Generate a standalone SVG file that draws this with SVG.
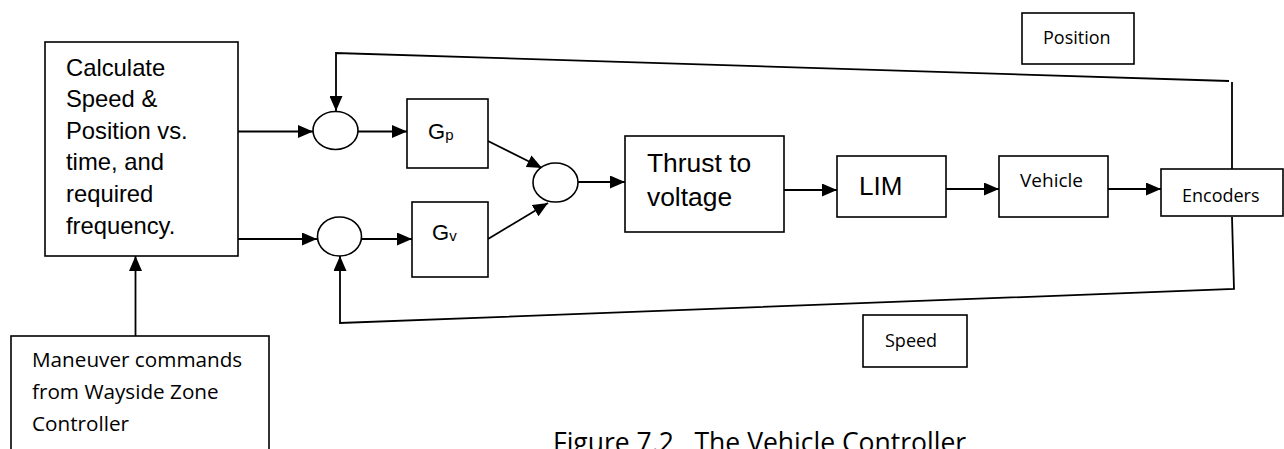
<svg xmlns="http://www.w3.org/2000/svg" width="1284" height="449" viewBox="0 0 1284 449">
<defs>
<style>
.box{fill:#fff;stroke:#000;stroke-width:1.6}
.sum{fill:#fff;stroke:#000;stroke-width:1.6}
.ln{fill:none;stroke:#000;stroke-width:1.8}
.arr{fill:none;stroke:#000;stroke-width:1.8;marker-end:url(#ah)}
.a{font-family:"Liberation Sans",Arial,sans-serif;fill:#000}
.c{font-family:"Open Sans","Noto Sans",sans-serif;fill:#000}
</style>
<marker id="ah" viewBox="0 0 15 13" refX="15" refY="6.5" markerWidth="15" markerHeight="13" orient="auto" markerUnits="userSpaceOnUse">
<path d="M0,0 L15,6.5 L0,13 z" fill="#000"/>
</marker>
</defs>
<rect width="1284" height="449" fill="#fff"/>

<g id="connectors">
<line class="arr" x1="238" y1="131.5" x2="313" y2="131.5"/>
<line class="arr" x1="358" y1="131.5" x2="407" y2="131.5"/>
<line class="arr" x1="238" y1="239" x2="317" y2="239"/>
<line class="arr" x1="362" y1="239" x2="412" y2="239"/>
<line class="arr" x1="488" y1="141" x2="542" y2="168"/>
<line class="arr" x1="488" y1="239" x2="548" y2="203"/>
<line class="arr" x1="578" y1="182" x2="625" y2="182"/>
<line class="arr" x1="784" y1="190" x2="837" y2="190"/>
<line class="arr" x1="946" y1="189" x2="999" y2="189"/>
<line class="arr" x1="1108" y1="189" x2="1161" y2="189"/>
<line class="arr" x1="135.5" y1="336" x2="135.5" y2="256"/>
<line class="ln" x1="1232" y1="169" x2="1232" y2="82"/>
<polyline class="arr" points="1229,81 336,53 336,111"/>
<polyline class="arr" points="1232,217 1234,289 340,323 340,256"/>
</g>

<g id="calc">
<rect class="box" x="45" y="42" width="193" height="214"/>
<text class="a" font-size="23.8"><tspan x="66" y="75.5">Calculate</tspan><tspan x="66" y="107">Speed &amp;</tspan><tspan x="66" y="138.5">Position vs.</tspan><tspan x="66" y="170">time, and</tspan><tspan x="66" y="202">required</tspan><tspan x="66" y="234">frequency.</tspan></text>
</g>

<g id="sum1"><ellipse class="sum" cx="335.5" cy="130.5" rx="22.5" ry="19"/></g>
<g id="sum2"><ellipse class="sum" cx="339.5" cy="236.5" rx="22" ry="19.5"/></g>
<g id="sum3"><ellipse class="sum" cx="555.5" cy="182.5" rx="22.5" ry="19.5"/></g>

<g id="gp">
<rect class="box" x="407" y="99" width="81" height="69"/>
<text class="a" x="428" y="139" font-size="22">G<tspan font-size="15" dy="1">p</tspan></text>
</g>
<g id="gv">
<rect class="box" x="412" y="202" width="76" height="75"/>
<text class="a" x="432" y="240" font-size="22">G<tspan font-size="15" dy="1">v</tspan></text>
</g>

<g id="thrust">
<rect class="box" x="625" y="136" width="159" height="96"/>
<text class="a" font-size="26.4"><tspan x="647" y="172">Thrust to</tspan><tspan x="647" y="206">voltage</tspan></text>
</g>

<g id="lim">
<rect class="box" x="837" y="156" width="109" height="61"/>
<text class="a" x="859" y="195" font-size="26">LIM</text>
</g>

<g id="vehicle">
<rect class="box" x="999" y="156" width="109" height="61"/>
<text class="c" x="1020" y="187" font-size="19">Vehicle</text>
</g>

<g id="encoders">
<rect class="box" x="1161" y="169" width="122" height="47"/>
<text class="c" x="1182" y="202" font-size="18">Encoders</text>
</g>

<g id="position">
<rect class="box" x="1022" y="13" width="112" height="51"/>
<text class="c" x="1043" y="44" font-size="18">Position</text>
</g>

<g id="speed">
<rect class="box" x="863" y="315" width="104" height="52"/>
<text class="c" x="885" y="347" font-size="18">Speed</text>
</g>

<g id="maneuver">
<rect class="box" x="11" y="336" width="258" height="130"/>
<text class="c" font-size="20.7"><tspan x="32" y="367">Maneuver commands</tspan><tspan x="32" y="399">from Wayside Zone</tspan><tspan x="32" y="431">Controller</tspan></text>
</g>

<text class="c" x="553" y="452" font-size="26.5" style="white-space:pre">Figure 7.2   The Vehicle Controller</text>
</svg>
